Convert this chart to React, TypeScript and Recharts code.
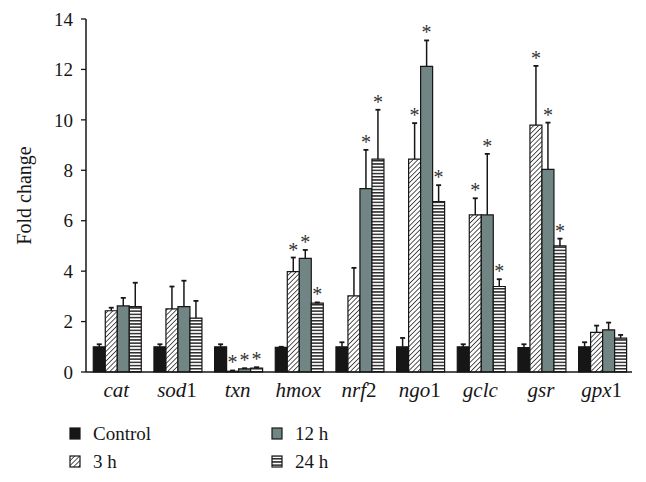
import { BarChart, Bar, XAxis, YAxis } from "recharts";

const CATEGORIES = ["cat", "sod1", "txn", "hmox", "nrf2", "ngo1", "gclc", "gsr", "gpx1"];
const Y_TICKS = [0, 2, 4, 6, 8, 10, 12, 14];

const CONTROL = [1.0, 1.0, 1.0, 0.98, 1.0, 1.0, 1.0, 0.97, 1.0];
const CONTROL_ERR = [0.1, 0.1, 0.1, 0.02, 0.18, 0.35, 0.1, 0.13, 0.18];
const H3 = [2.43, 2.5, 0.03, 3.98, 3.02, 8.44, 6.23, 9.79, 1.57];
const H3_ERR = [0.12, 0.89, 0.03, 0.56, 1.11, 1.43, 0.66, 2.35, 0.27];
const H12 = [2.62, 2.59, 0.12, 4.51, 7.27, 12.12, 6.23, 8.04, 1.67];
const H12_ERR = [0.32, 1.03, 0.03, 0.33, 1.54, 1.03, 2.42, 1.85, 0.29];
const H24 = [2.59, 2.14, 0.15, 2.73, 8.44, 6.76, 3.39, 5.0, 1.34];
const H24_ERR = [0.95, 0.68, 0.04, 0.03, 1.96, 0.65, 0.29, 0.29, 0.13];

// 1 = significant (asterisk)
const SIG_CONTROL = [0, 0, 0, 0, 0, 0, 0, 0, 0];
const SIG_3H = [0, 0, 1, 1, 0, 1, 1, 1, 0];
const SIG_12H = [0, 0, 1, 1, 1, 1, 1, 1, 0];
const SIG_24H = [0, 0, 1, 1, 1, 1, 1, 1, 0];

const FONT = "Liberation Serif, DejaVu Serif, Noto Serif, serif";
const INK = "#161616";
const GREY = "#718684";

const data = CATEGORIES.map((name, i) => ({
  name,
  control: CONTROL[i],
  controlErr: CONTROL_ERR[i],
  h3: H3[i],
  h3Err: H3_ERR[i],
  h12: H12[i],
  h12Err: H12_ERR[i],
  h24: H24[i],
  h24Err: H24_ERR[i],
}));

// error segment stacked on top of the value bar: whisker + cap + asterisk
const errShape = (sig: number[]) => (props: any) => {
  const { x, y, width, height, index } = props;
  if (x == null || y == null) return <g />;
  const cx = x + width / 2;
  return (
    <g>
      <line x1={cx} x2={cx} y1={y + height} y2={y} stroke={INK} strokeWidth={1.5} />
      <line x1={cx - 2.5} x2={cx + 2.5} y1={y} y2={y} stroke={INK} strokeWidth={1.8} />
      {sig[index] ? (
        <text x={cx} y={y - 1} textAnchor="middle" fontSize={20} fill="#333" style={{ fontFamily: FONT }}>
          *
        </text>
      ) : null}
    </g>
  );
};

function GeneTick(props: any) {
  const { x, y, payload } = props;
  const m = String(payload.value).match(/^([a-z]+)(\d*)$/);
  const letters = m ? m[1] : payload.value;
  const digits = m ? m[2] : "";
  return (
    <text x={x} y={y} dy={17} textAnchor="middle" fontSize={21} fill={INK} style={{ fontFamily: FONT }}>
      <tspan fontStyle="italic">{letters}</tspan>
      {digits ? <tspan>{digits}</tspan> : null}
    </text>
  );
}

const LEGEND = [
  { label: "Control", fill: INK, col: 0, row: 0 },
  { label: "3 h", fill: "url(#hatch3h)", col: 0, row: 1 },
  { label: "12 h", fill: GREY, col: 1, row: 0 },
  { label: "24 h", fill: "url(#stripe24h)", col: 1, row: 1 },
];

export default function App() {
  return (
    <div style={{ position: "absolute", left: 0, top: 0, width: 646, height: 482, background: "#fff", fontFamily: FONT }}>
      <BarChart
        width={646}
        height={410}
        data={data}
        margin={{ top: 19, right: 14, left: 30, bottom: 8 }}
        barCategoryGap="12%"
        barGap={0}
        style={{ fontFamily: FONT }}
      >
        <defs>
          <pattern id="hatch3h" patternUnits="userSpaceOnUse" width={3.4} height={3.4} patternTransform="rotate(45)">
            <rect width={3.4} height={3.4} fill="#fff" />
            <line x1={0} y1={0} x2={0} y2={3.4} stroke="#2b2b2b" strokeWidth={1.6} />
          </pattern>
          <pattern id="stripe24h" patternUnits="userSpaceOnUse" width={4} height={3.2}>
            <rect width={4} height={3.2} fill="#fff" />
            <rect width={4} height={1.5} fill="#2b2b2b" />
          </pattern>
        </defs>
        <XAxis
          dataKey="name"
          tick={<GeneTick />}
          tickLine={false}
          axisLine={{ stroke: INK, strokeWidth: 1.5 }}
          height={30}
          interval={0}
        />
        <YAxis
          domain={[0, 14]}
          ticks={Y_TICKS}
          width={56}
          tickSize={5}
          tickMargin={8}
          tickLine={{ stroke: INK, strokeWidth: 1.3 }}
          axisLine={{ stroke: INK, strokeWidth: 1.5 }}
          tick={{ fill: INK, fontSize: 19, style: { fontFamily: FONT } }}
          label={{
            content: (p: any) => {
              const vb = p.viewBox;
              const cx = vb.x + 1;
              const cy = vb.y + vb.height / 2;
              return (
                <text
                  x={cx}
                  y={cy}
                  transform={`rotate(-90 ${cx} ${cy})`}
                  textAnchor="middle"
                  fontSize={20}
                  fill={INK}
                  style={{ fontFamily: FONT }}
                >
                  Fold change
                </text>
              );
            },
          }}
        />
        <Bar dataKey="control" stackId="c" fill={INK} stroke={INK} strokeWidth={1.2} isAnimationActive={false} />
        <Bar dataKey="controlErr" stackId="c" shape={errShape(SIG_CONTROL)} isAnimationActive={false} />
        <Bar dataKey="h3" stackId="a" fill="url(#hatch3h)" stroke={INK} strokeWidth={1.2} isAnimationActive={false} />
        <Bar dataKey="h3Err" stackId="a" shape={errShape(SIG_3H)} isAnimationActive={false} />
        <Bar dataKey="h12" stackId="b" fill={GREY} stroke={INK} strokeWidth={1.2} isAnimationActive={false} />
        <Bar dataKey="h12Err" stackId="b" shape={errShape(SIG_12H)} isAnimationActive={false} />
        <Bar dataKey="h24" stackId="d" fill="url(#stripe24h)" stroke={INK} strokeWidth={1.2} isAnimationActive={false} />
        <Bar dataKey="h24Err" stackId="d" shape={errShape(SIG_24H)} isAnimationActive={false} />
      </BarChart>
      <svg width={646} height={72} style={{ position: "absolute", left: 0, top: 410, fontFamily: FONT }}>
        {LEGEND.map((item) => {
          const lx = item.col === 0 ? 70 : 272;
          const ly = item.row === 0 ? 18 : 46;
          return (
            <g key={item.label}>
              <rect x={lx} y={ly} width={10} height={11} fill={item.fill} stroke={INK} strokeWidth={1.2} />
              <text x={lx + 23} y={ly + 12} fontSize={19} fill={INK} style={{ fontFamily: FONT }}>
                {item.label}
              </text>
            </g>
          );
        })}
      </svg>
    </div>
  );
}
